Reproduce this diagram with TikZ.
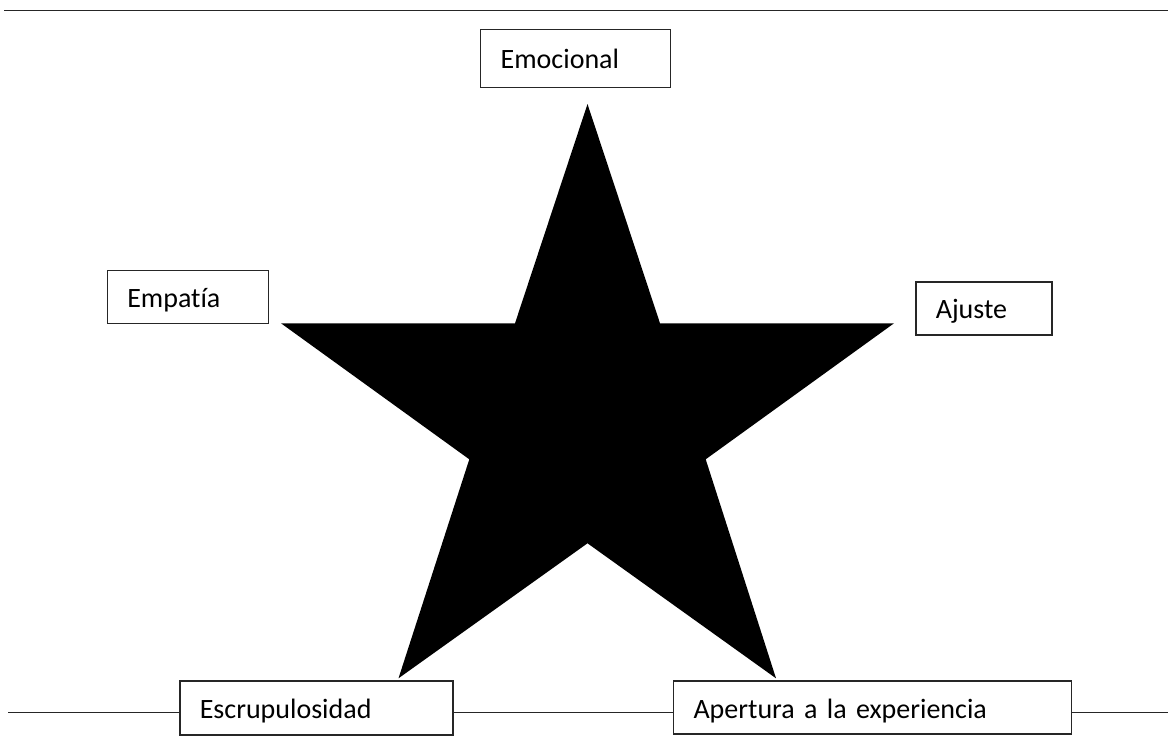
\documentclass[tikz,border=0pt]{standalone}
\usepackage{fontspec}
\setmainfont{Carlito}[Ligatures=NoCommon]
\begin{document}
\begin{tikzpicture}[x=1pt,y=-1pt,
  box/.style n args={3}{draw=black!85, line width=1.4pt, fill=white,
    inner xsep=20pt, inner ysep=2pt, text width=#1, minimum height=#2,
    align=left, font=\fontsize{28}{33}\selectfont, text height=24pt, text depth=3pt},
  rule/.style={draw=black!85, line width=1.5pt}]
\useasboundingbox (0,0) rectangle (1172,736);
% top rule
\coordinate (tl) at (4,10.5);
\coordinate (tr) at (1168,10.5);
\draw[rule] (tl) -- (tr);
% star
\fill[black] (587.5,104) -- (660,323.3) -- (894,323.3) -- (705.7,459.3)
  -- (776,678.3) -- (587.5,543.3) -- (398.5,678.3) -- (469.3,459.3)
  -- (281,323.3) -- (515,323.3) -- cycle;
% boxes
\node[box={150pt}{58pt}{}] (emo) at (575.7,58.3) {Emocional};
\node[box={121pt}{53pt}{}] (emp) at (187.8,296.7) {Empatía};
\node[box={96pt}{53pt}{}] (aju) at (983.8,308.3) {Ajuste};
\node[box={233pt}{54pt}{}] (esc) at (316.3,708) {Escrupulosidad};
\node[box={358pt}{53pt}{}] (ape) at (872.5,707.5) {Apertura a la experiencia};
% bottom rule
\coordinate (bl) at (8,712.5);
\coordinate (br) at (1168,712.5);
\draw[rule] (bl) -- (esc.west |- bl);
\draw[rule] (esc.east |- bl) -- (ape.west |- bl);
\draw[rule] (ape.east |- bl) -- (br);
\end{tikzpicture}
\end{document}
